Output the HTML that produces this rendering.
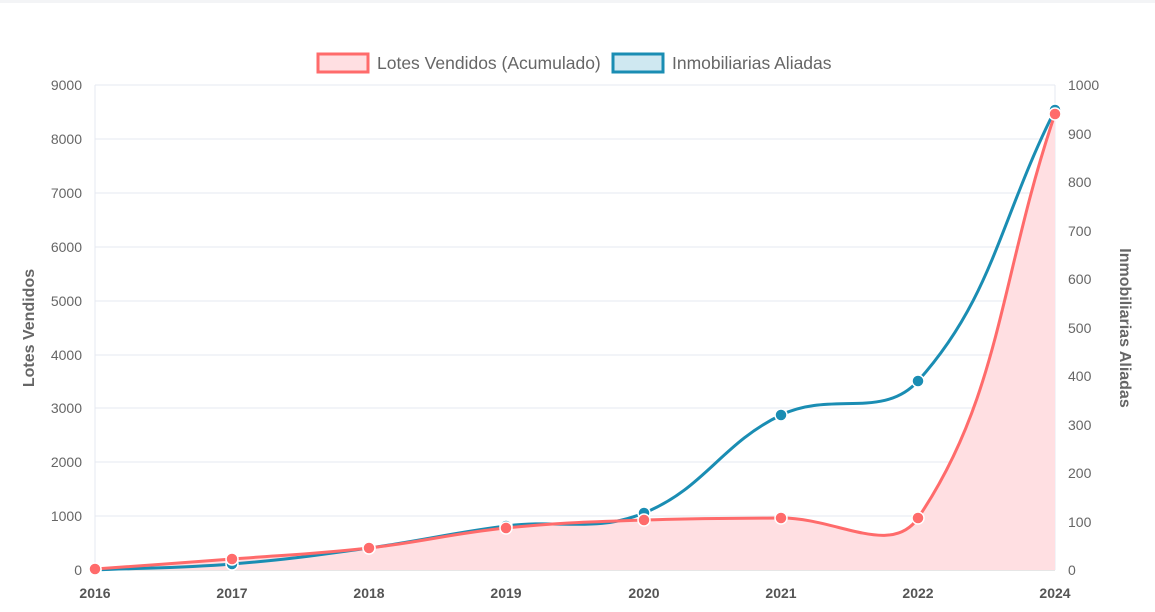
<!DOCTYPE html>
<html><head><meta charset="utf-8"><style>
body{margin:0;background:#fff;}
svg{display:block;font-family:"Liberation Sans",sans-serif;}
</style></head><body>
<svg width="1155" height="612" viewBox="0 0 1155 612">
<rect x="0" y="0" width="1155" height="3" fill="#f3f4f6"/>
<g stroke="#e5e9f0" stroke-width="1">
<line x1="95" y1="85" x2="1055" y2="85"/><line x1="95" y1="139" x2="1055" y2="139"/>
<line x1="95" y1="193" x2="1055" y2="193"/><line x1="95" y1="247" x2="1055" y2="247"/>
<line x1="95" y1="301" x2="1055" y2="301"/><line x1="95" y1="355" x2="1055" y2="355"/>
<line x1="95" y1="408" x2="1055" y2="408"/><line x1="95" y1="462" x2="1055" y2="462"/>
<line x1="95" y1="516" x2="1055" y2="516"/>
<line x1="95" y1="85" x2="95" y2="570"/><line x1="1055" y1="85" x2="1055" y2="570"/>
</g>
<line x1="95" y1="570" x2="1055" y2="570" stroke="#ccc"/>
<g font-size="14" fill="#666" text-anchor="end">
<text x="82" y="90">9000</text><text x="82" y="144">8000</text><text x="82" y="198">7000</text>
<text x="82" y="252">6000</text><text x="82" y="306">5000</text><text x="82" y="360">4000</text>
<text x="82" y="413">3000</text><text x="82" y="467">2000</text><text x="82" y="521">1000</text>
<text x="82" y="575">0</text>
</g>
<g font-size="14" fill="#666">
<text x="1068" y="90">1000</text><text x="1068" y="139">900</text><text x="1068" y="187">800</text>
<text x="1068" y="236">700</text><text x="1068" y="284">600</text><text x="1068" y="333">500</text>
<text x="1068" y="381">400</text><text x="1068" y="430">300</text><text x="1068" y="478">200</text>
<text x="1068" y="527">100</text><text x="1068" y="575">0</text>
</g>
<g font-size="14" fill="#555" font-weight="bold" text-anchor="middle">
<text x="95" y="598">2016</text><text x="232" y="598">2017</text><text x="369" y="598">2018</text>
<text x="506" y="598">2019</text><text x="644" y="598">2020</text><text x="781" y="598">2021</text>
<text x="918" y="598">2022</text><text x="1055" y="598">2024</text>
</g>
<text transform="translate(34,328) rotate(-90)" font-size="16" font-weight="bold" fill="#666" text-anchor="middle">Lotes Vendidos</text>
<text transform="translate(1120,328) rotate(90)" font-size="16" font-weight="bold" fill="#666" text-anchor="middle">Inmobiliarias Aliadas</text>
<path d="M95,569 C149.8,565 177.2,563.2 232,559 C286.8,554.8 314.2,554.2 369,548 C423.8,541.8 451,533.6 506,528 C561,522.4 589,522 644,520 C699,518 726.2,518.4 781,518 C835.8,517.6 891.4,557.2 918,518 C1001,395.6 1000.2,275.6 1055,114 L1055,570 L95,570 Z" fill="#ffdfe2"/>
<path d="M95,570 C149.8,567.6 177.2,568.4 232,564 C286.8,559.6 314.2,555.6 369,548 C423.8,540.4 451,533 506,526 C561,519 594.5,533 644,513 C704.5,488.6 721.4,443.7 781,415 C831,390.9 883.2,419.7 918,381 C992.8,297.7 1000.2,218.4 1055,110" fill="none" stroke="#1a8db3" stroke-width="3"/>
<path d="M95,569 C149.8,565 177.2,563.2 232,559 C286.8,554.8 314.2,554.2 369,548 C423.8,541.8 451,533.6 506,528 C561,522.4 589,522 644,520 C699,518 726.2,518.4 781,518 C835.8,517.6 891.4,557.2 918,518 C1001,395.6 1000.2,275.6 1055,114" fill="none" stroke="#ff6b6b" stroke-width="3"/>
<g fill="#1a8db3" stroke="#fff" stroke-width="1.5">
<circle cx="95" cy="570" r="6"/><circle cx="232" cy="564" r="6"/><circle cx="369" cy="548" r="6"/>
<circle cx="506" cy="526" r="6"/><circle cx="644" cy="513" r="6"/><circle cx="781" cy="415" r="6"/>
<circle cx="918" cy="381" r="6"/><circle cx="1055" cy="110" r="6"/>
</g>
<g fill="#ff6b6b" stroke="#fff" stroke-width="1.5">
<circle cx="95" cy="569" r="6"/><circle cx="232" cy="559" r="6"/><circle cx="369" cy="548" r="6"/>
<circle cx="506" cy="528" r="6"/><circle cx="644" cy="520" r="6"/><circle cx="781" cy="518" r="6"/>
<circle cx="918" cy="518" r="6"/><circle cx="1055" cy="114" r="6"/>
</g>
<rect x="318" y="54" width="50" height="18" fill="#ffdfe2" stroke="#ff6b6b" stroke-width="3"/>
<text x="377" y="69" font-size="17.5" fill="#666">Lotes Vendidos (Acumulado)</text>
<rect x="613" y="54" width="50" height="18" fill="#cfe8f1" stroke="#1a8db3" stroke-width="3"/>
<text x="672" y="69" font-size="17.5" fill="#666">Inmobiliarias Aliadas</text>
</svg>
</body></html>
